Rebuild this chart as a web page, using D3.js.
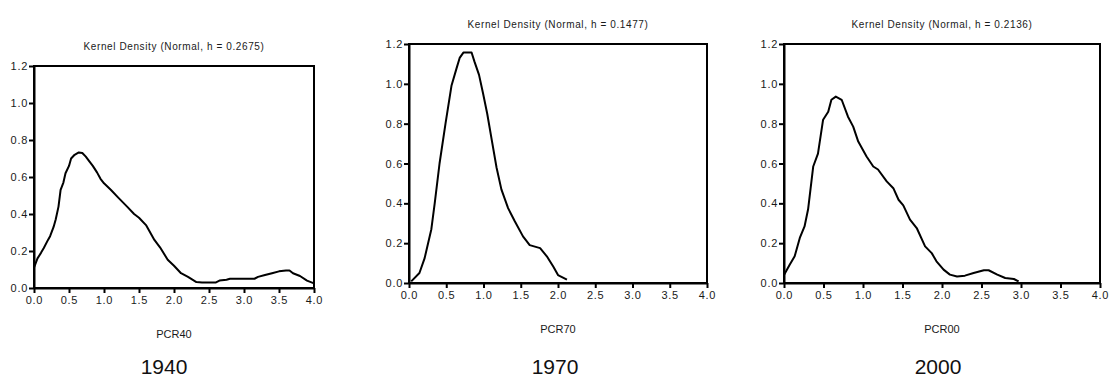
<!DOCTYPE html>
<html>
<head>
<meta charset="utf-8">
<script src="https://cdn.jsdelivr.net/npm/d3@7"></script>
<style>
  body { margin: 0; background: #fff; }
  svg { display: block; font-family: "Liberation Sans", Arial, sans-serif; }
  .tick text { fill: #1a1a1a; }
</style>
</head>
<body>
<div id="chart"></div>
<script>
// kernel density estimates
const xTicks = [0.0, 0.5, 1.0, 1.5, 2.0, 2.5, 3.0, 3.5, 4.0];
const yTicks = [0.0, 0.2, 0.4, 0.6, 0.8, 1.0, 1.2];

const x40 = [0.0, 0.05, 0.1, 0.14, 0.2, 0.23, 0.28, 0.31, 0.35, 0.38, 0.42, 0.45, 0.5, 0.53, 0.58, 0.64, 0.69, 0.74, 0.78, 0.84, 0.9, 0.95, 1.0, 1.1, 1.2, 1.33, 1.43, 1.5, 1.6, 1.72, 1.8, 1.91, 2.0, 2.1, 2.2, 2.32, 2.4, 2.6, 2.65, 2.75, 2.8, 3.0, 3.15, 3.2, 3.3, 3.4, 3.5, 3.6, 3.65, 3.7, 3.8, 3.9, 4.0];
const d40 = [0.11, 0.16, 0.19, 0.216, 0.26, 0.28, 0.33, 0.37, 0.44, 0.53, 0.57, 0.62, 0.66, 0.7, 0.72, 0.733, 0.73, 0.71, 0.69, 0.66, 0.625, 0.59, 0.566, 0.53, 0.49, 0.44, 0.40, 0.38, 0.34, 0.26, 0.22, 0.153, 0.12, 0.08, 0.06, 0.032, 0.03, 0.03, 0.04, 0.045, 0.05, 0.05, 0.05, 0.06, 0.07, 0.08, 0.09, 0.095, 0.095, 0.08, 0.065, 0.04, 0.025];

const x70 = [0.03, 0.14, 0.21, 0.3, 0.345, 0.41, 0.49, 0.57, 0.64, 0.68, 0.73, 0.84, 0.88, 0.94, 0.995, 1.05, 1.11, 1.175, 1.24, 1.33, 1.42, 1.53, 1.62, 1.76, 1.85, 1.94, 2.0, 2.12];
const d70 = [0.008, 0.05, 0.125, 0.27, 0.40, 0.60, 0.80, 0.99, 1.08, 1.13, 1.157, 1.157, 1.11, 1.045, 0.95, 0.85, 0.72, 0.58, 0.47, 0.376, 0.31, 0.234, 0.19, 0.175, 0.134, 0.08, 0.04, 0.017];

const x00 = [0.0, 0.07, 0.135, 0.2, 0.26, 0.305, 0.37, 0.43, 0.495, 0.56, 0.6, 0.656, 0.73, 0.81, 0.876, 0.94, 1.045, 1.13, 1.19, 1.3, 1.384, 1.45, 1.51, 1.595, 1.68, 1.786, 1.87, 1.93, 2.02, 2.1, 2.19, 2.29, 2.4, 2.53, 2.59, 2.7, 2.8, 2.91, 2.97];
const d00 = [0.04, 0.09, 0.134, 0.226, 0.284, 0.37, 0.585, 0.65, 0.82, 0.86, 0.92, 0.936, 0.92, 0.835, 0.785, 0.71, 0.635, 0.585, 0.57, 0.51, 0.476, 0.418, 0.39, 0.318, 0.276, 0.184, 0.15, 0.109, 0.067, 0.042, 0.033, 0.037, 0.05, 0.064, 0.064, 0.042, 0.025, 0.02, 0.008];

const titles = ["Kernel Density (Normal, h = 0.2675)", "Kernel Density (Normal, h = 0.1477)", "Kernel Density (Normal, h = 0.2136)"];
const varNames = ["PCR40", "PCR70", "PCR00"];
const years = ["1940", "1970", "2000"];

const panels = [
  {xs: x40, ds: d40, left: 34, right: 314, top: 66, bottom: 288, yearX: 164},
  {xs: x70, ds: d70, left: 409, right: 707, top: 44, bottom: 283, yearX: 555},
  {xs: x00, ds: d00, left: 784, right: 1100, top: 44, bottom: 283, yearX: 938}
];

const svg = d3.select("#chart").append("svg")
    .attr("width", 1110)
    .attr("height", 380);

panels.forEach((p, i) => {
  const x = d3.scaleLinear().domain([0, 4]).range([p.left, p.right]);
  const y = d3.scaleLinear().domain([0, 1.2]).range([p.bottom, p.top]);
  const cx = (p.left + p.right) / 2;

  const g = svg.append("g");

  // frame
  g.append("rect")
    .attr("x", p.left).attr("y", p.top)
    .attr("width", p.right - p.left).attr("height", p.bottom - p.top)
    .attr("fill", "none").attr("stroke", "#000").attr("stroke-width", 2);

  g.append("g")
    .attr("transform", `translate(0,${p.bottom})`)
    .call(d3.axisBottom(x).tickValues(xTicks).tickFormat(d3.format(".1f")).tickSize(5).tickSizeOuter(0).tickPadding(3))
    .call(a => a.select(".domain").attr("stroke-width", 2))
    .call(a => a.selectAll(".tick line").attr("stroke-width", 2))
    .call(a => a.selectAll("text").style("font-size", "11px").style("letter-spacing", "0.7px"));

  g.append("g")
    .attr("transform", `translate(${p.left},0)`)
    .call(d3.axisLeft(y).tickValues(yTicks).tickFormat(d3.format(".1f")).tickSize(5).tickSizeOuter(0).tickPadding(1))
    .call(a => a.select(".domain").attr("stroke-width", 2))
    .call(a => a.selectAll(".tick line").attr("stroke-width", 2))
    .call(a => a.selectAll("text").style("font-size", "11px").style("letter-spacing", "0.7px"));

  const line = d3.line()
    .x((d, k) => x(p.xs[k]))
    .y(d => y(d));

  g.append("path")
    .datum(p.ds)
    .attr("d", line)
    .attr("fill", "none")
    .attr("stroke", "#000")
    .attr("stroke-width", 2)
    .attr("stroke-linejoin", "round");

  g.append("text")
    .attr("x", cx).attr("y", p.top - 19)
    .attr("text-anchor", "middle")
    .attr("dominant-baseline", "middle")
    .style("font-size", "10px")
    .style("letter-spacing", "0.6px")
    .attr("fill", "#1a1a1a")
    .text(titles[i]);

  g.append("text")
    .attr("x", cx).attr("y", p.bottom + 47)
    .attr("text-anchor", "middle")
    .attr("dominant-baseline", "middle")
    .style("font-size", "11px")
    .attr("fill", "#1a1a1a")
    .text(varNames[i]);

  g.append("text")
    .attr("x", p.yearX).attr("y", 368)
    .attr("text-anchor", "middle")
    .attr("dominant-baseline", "middle")
    .style("font-size", "21px")
    .attr("fill", "#111")
    .text(years[i]);
});
</script>
</body>
</html>
